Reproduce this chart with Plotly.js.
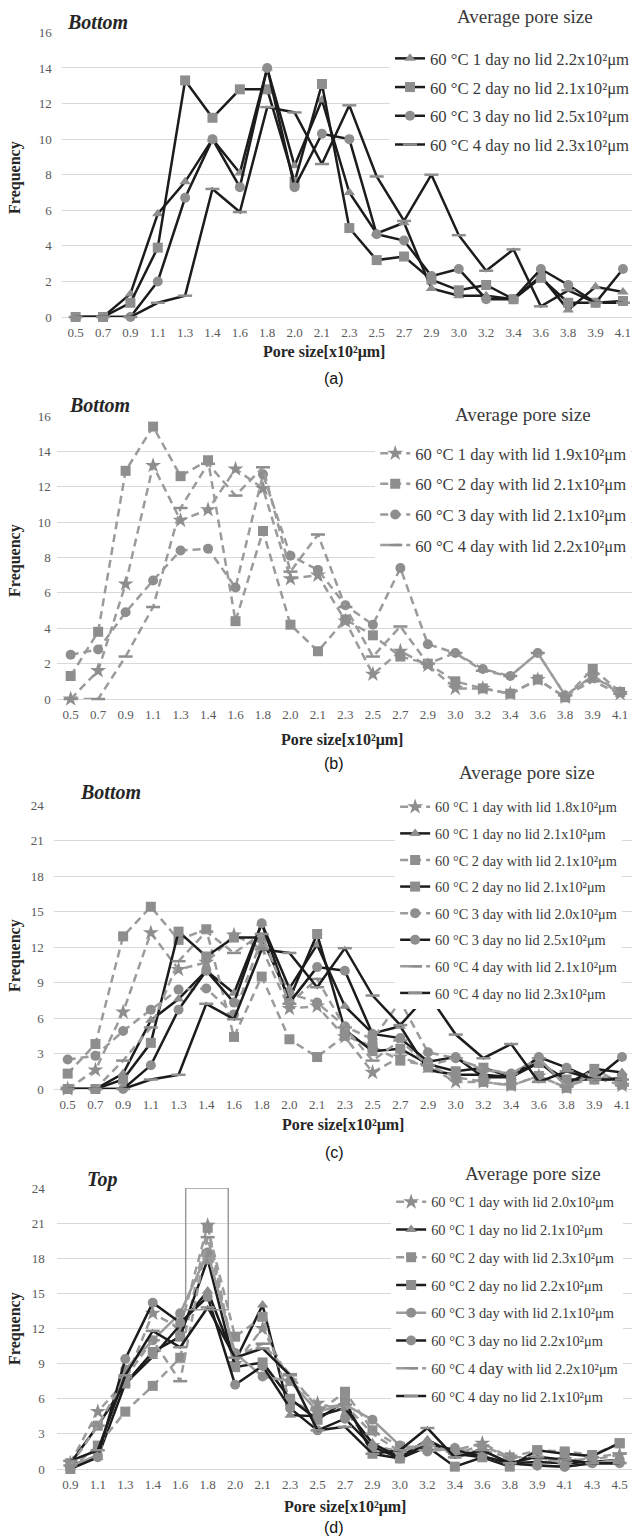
<!DOCTYPE html>
<html>
<head>
<meta charset="utf-8">
<script src="https://cdn.plot.ly/plotly-3.0.1.min.js"></script>
<style>html,body{margin:0;padding:0;background:#fff;}#chart{width:635px;height:1539px;}</style>
</head>
<body>
<div id="chart"></div>
<script>
// ---------- DATA ----------
const catsBottom = ['0.5','0.7','0.9','1.1','1.3','1.4','1.6','1.8','2.0','2.1','2.3','2.5','2.7','2.9','3.0','3.2','3.4','3.6','3.8','3.9','4.1'];
const catsTop = ['0.9','1.1','1.3','1.4','1.6','1.8','2.0','2.1','2.3','2.5','2.7','2.9','3.0','3.2','3.4','3.6','3.8','3.9','4.1','4.3','4.5'];

// Bottom, no lid (a)
const noLid1 = [0,0,1.3,5.8,7.6,10.0,8.1,14.0,8.5,12.2,7.0,4.7,5.3,1.6,1.2,1.2,1.0,2.3,0.4,1.7,1.4];
const noLid2 = [0,0,0.8,3.9,13.3,11.2,12.8,12.8,7.6,13.1,5.0,3.2,3.4,2.1,1.5,1.8,1.0,2.2,0.8,0.8,0.9];
const noLid3 = [0,0,0,2.0,6.7,10.0,7.3,14.0,7.3,10.3,10.0,4.65,4.3,2.3,2.7,1.0,1.0,2.7,1.8,0.8,2.7];
const noLid4 = [0,0,0,0.8,1.2,7.2,5.9,11.8,11.5,8.6,11.9,7.9,5.4,8.0,4.6,2.6,3.8,0.6,1.5,0.8,0.8];
// Bottom, with lid (b)
const withLid1 = [0,1.6,6.5,13.2,10.1,10.7,13.0,11.9,6.8,7.0,4.4,1.4,2.7,1.9,0.6,0.6,0.3,1.1,0.1,1.3,0.3];
const withLid2 = [1.3,3.8,12.9,15.4,12.6,13.5,4.4,9.5,4.2,2.7,4.5,3.6,2.4,2.0,1.0,0.6,0.3,1.1,0.1,1.7,0.4];
const withLid3 = [2.5,2.8,4.9,6.7,8.4,8.5,6.3,12.7,8.1,7.3,5.3,4.2,7.4,3.1,2.6,1.7,1.3,2.6,0.2,1.3,0.4];
const withLid4 = [0,0,2.4,5.2,10.8,13.3,11.5,13.1,7.2,9.3,5.2,2.4,4.1,2.0,2.6,1.6,1.3,2.6,0.2,1.0,0.3];
// Top (d)
const top1w = [0.5,4.9,7.5,13.3,12.0,20.8,9.0,12.0,7.5,5.6,5.0,2.0,1.5,2.0,1.6,2.2,1.0,0.8,0.8,0.8,1.2];
const top1n = [0.3,1.0,7.3,9.6,12.3,15.2,9.2,14.0,4.6,4.5,5.2,2.2,1.0,2.5,1.3,1.0,0.5,0.6,0.5,0.6,0.8];
const top2w = [0.0,2.0,4.9,7.1,9.5,20.6,11.3,13.0,5.8,4.8,6.6,3.3,1.9,1.9,1.3,1.6,1.0,1.6,1.5,1.2,2.2];
const top2n = [0.5,3.7,7.3,10.0,11.3,17.9,8.7,9.1,6.0,4.2,5.8,1.3,0.9,1.9,0.2,1.0,0.2,1.6,1.3,1.1,2.2];
const top3w = [0.2,1.2,8.5,11.0,13.3,18.5,9.9,7.9,7.5,4.9,5.5,4.2,2.0,1.5,1.8,1.1,0.5,0.3,0.2,0.5,0.8];
const top3n = [0.0,1.0,9.4,14.2,12.5,14.7,7.2,8.8,5.2,3.3,4.3,1.9,0.9,2.2,1.6,1.1,0.5,0.3,0.2,0.5,0.5];
const top4w = [0.3,3.7,7.8,11.0,7.5,19.8,9.5,10.7,8.1,5.2,5.5,3.0,1.5,2.2,1.3,2.0,1.0,1.0,0.5,1.0,1.3];
const top4n = [0.7,1.6,8.0,11.8,10.4,13.8,9.5,10.3,8.0,3.3,3.6,1.3,1.6,3.5,1.0,1.6,0.5,1.05,0.8,0.5,0.5];

const namesA = ['60 °C 1 day no lid 2.2x10²μm','60 °C 2 day no lid 2.1x10²μm','60 °C 3 day no lid 2.5x10²μm','60 °C 4 day no lid 2.3x10²μm'];
const namesB = ['60 °C 1 day with lid 1.9x10²μm','60 °C 2 day with lid 2.1x10²μm','60 °C 3 day with lid 2.1x10²μm','60 °C 4 day with lid 2.2x10²μm'];
const namesC = ['60 °C 1 day with lid 1.8x10²μm','60 °C 1 day no lid 2.1x10²μm','60 °C 2 day with lid 2.1x10²μm','60 °C 2 day no lid 2.1x10²μm','60 °C 3 day with lid 2.0x10²μm','60 °C 3 day no lid 2.5x10²μm','60 °C 4 day with lid 2.1x10²μm','60 °C 4 day no lid 2.3x10²μm'];
const namesD = ['60 °C 1 day with lid 2.0x10²μm','60 °C 1 day no lid 2.1x10²μm','60 °C 2 day with lid 2.3x10²μm','60 °C 2 day no lid 2.2x10²μm','60 °C 3 day with lid 2.1x10²μm','60 °C 3 day no lid 2.2x10²μm','60 °C 4 <span style="font-size:17px">day</span> with lid 2.2x10²μm','60 °C 4 day no lid 2.1x10²μm'];

// highlight box in panel (d): category-index span and frequency span
const boxX = [4.2, 5.75];
const boxY = [13.6, 24];

// ---------- STYLE ----------
const W = 635, H = 1539;
const fx = p => p / W;
const fy = p => 1 - p / H;
const BLACK = '#1c1c1c', GLINE = '#9b9b9b', MK = '#8e8e8e';
const SERIF = '"Liberation Serif", "Times New Roman", Times, "DejaVu Serif", serif';
const DASH = '8px,5px';

function st(kind, sym) {
  const line = kind === 'n' ? {color: BLACK, width: 2.5}
             : kind === 'w' ? {color: GLINE, width: 2.5, dash: DASH}
             : {color: GLINE, width: 2.5};
  let marker;
  if (sym === 'line-ew') marker = {symbol: 'line-ew', size: 10, color: MK, line: {color: MK, width: 2.5}};
  else marker = {symbol: sym, size: sym === 'star' ? 12 : 10, color: MK, line: {width: 0}};
  return {line, marker};
}

const traces = [];
function add(xs, ys, name, style, n, leg, grp) {
  traces.push({
    type: 'scatter', mode: 'lines+markers', x: xs, y: ys, name: name,
    xaxis: 'x' + (n === 1 ? '' : n), yaxis: 'y' + (n === 1 ? '' : n),
    line: style.line, marker: style.marker, cliponaxis: false,
    legend: leg, legendgroup: grp, hoverinfo: 'skip'
  });
}

[noLid1, noLid2, noLid3, noLid4].forEach((s, i) => {
  add(catsBottom, s, namesA[i], st('n', ['triangle-up','square','circle','line-ew'][i]), 1, 'legend', 'a' + i);
});
[withLid1, withLid2, withLid3, withLid4].forEach((s, i) => {
  add(catsBottom, s, namesB[i], st('w', ['star','square','circle','line-ew'][i]), 2, 'legend2', 'b' + i);
});
const cSeries = [withLid1, noLid1, withLid2, noLid2, withLid3, noLid3, withLid4, noLid4];
const cSyms = ['star','triangle-up','square','square','circle','circle','line-ew','line-ew'];
cSeries.forEach((s, i) => {
  add(catsBottom, s, namesC[i], st(i % 2 === 0 ? 'w' : 'n', cSyms[i]), 3, 'legend3', 'c' + i);
});
const dSeries = [top1w, top1n, top2w, top2n, top3w, top3n, top4w, top4n];
const dKinds = ['w','n','w','n','g','n','w','n'];
dSeries.forEach((s, i) => {
  add(catsTop, s, namesD[i], st(dKinds[i], cSyms[i]), 4, 'legend4', 'd' + i);
});

// ---------- AXES ----------
const tickFont = {family: SERIF, size: 13, color: '#595959'};
function xax(left, rmin, rmax, anchor, cats) {
  return {type: 'category', categoryorder: 'array', categoryarray: cats,
    domain: [fx(left), 1], range: [rmin, rmax], anchor: anchor,
    showgrid: false, zeroline: false, showline: false, ticks: '',
    tickmode: 'linear', tick0: 0, dtick: 1, tickangle: 0,
    tickfont: tickFont, ticklabelstandoff: 6, fixedrange: true};
}
function yax(topPx, botPx, rmax, dt, anchor, standoff) {
  return {domain: [fy(botPx), fy(topPx)], range: [0, rmax], dtick: dt, tick0: 0,
    anchor: anchor, showgrid: true, gridcolor: '#d9d9d9', gridwidth: 1,
    zeroline: true, zerolinecolor: '#d9d9d9', zerolinewidth: 1, showline: false,
    ticks: '', tickfont: tickFont, ticklabelstandoff: standoff, fixedrange: true};
}
function leg(xpx, ytop, fs, gap) {
  return {x: fx(xpx), y: fy(ytop), xref: 'paper', yref: 'paper', xanchor: 'left', yanchor: 'top',
    bgcolor: 'rgba(255,255,255,1)', borderwidth: 0, font: {family: SERIF, size: fs, color: '#3a3a3a'},
    traceorder: 'grouped', tracegroupgap: gap, itemwidth: 30, itemclick: false, itemdoubleclick: false};
}

const ann = [];
function txt(text, xpx, ypx, opts) {
  ann.push(Object.assign({text: text, x: fx(xpx), y: fy(ypx), xref: 'paper', yref: 'paper',
    showarrow: false, xanchor: 'center', yanchor: 'middle',
    font: {family: SERIF, size: 16, color: '#262626'}}, opts || {}));
}
const titleFont = {family: SERIF, size: 20, color: '#262626'};
txt('<b><i>Bottom</i></b>', 65, 22, {xanchor: 'left', font: titleFont});
txt('<b><i>Bottom</i></b>', 67, 405, {xanchor: 'left', font: titleFont});
txt('<b><i>Bottom</i></b>', 78, 792, {xanchor: 'left', font: titleFont});
txt('<b><i>Top</i></b>', 85, 1179, {xanchor: 'left', font: titleFont});
const avgFont = {family: SERIF, size: 19, color: '#3a3a3a'};
txt('Average pore size', 527, 17, {font: avgFont, bgcolor: '#fff'});
txt('Average pore size', 525, 414, {font: avgFont, bgcolor: '#fff'});
txt('Average pore size', 529, 772, {font: avgFont, bgcolor: '#fff'});
txt('Average pore size', 536, 1173, {font: avgFont, bgcolor: '#fff'});
const axFont = {family: SERIF, size: 16, color: '#262626'};
[177, 560, 955, 1328].forEach(y => txt('<b>Frequency</b>', 15, y, {textangle: -90, font: axFont}));
[[326, 352], [344, 740], [345, 1125], [347, 1507]].forEach(p => txt('<b>Pore size[x10²μm]</b>', p[0], p[1], {font: axFont}));
const lblFont = {family: '"Liberation Sans", Arial, sans-serif', size: 16, color: '#111'};
[['(a)', 378], ['(b)', 763], ['(c)', 1152], ['(d)', 1527]].forEach(p => txt(p[0], 336, p[1], {font: lblFont}));

const layout = {
  width: W, height: H, margin: {l: 0, r: 0, t: 0, b: 0},
  paper_bgcolor: '#fff', plot_bgcolor: '#fff', showlegend: true, hovermode: false,
  font: {family: SERIF},
  xaxis: xax(62, -0.51, 20.33, 'y', catsBottom),
  yaxis: yax(32.4, 317, 16, 2, 'x', 9),
  xaxis2: xax(57, -0.507, 20.43, 'y2', catsBottom),
  yaxis2: yax(416, 699, 16, 2, 'x2', 5),
  xaxis3: xax(54, -0.503, 20.36, 'y3', catsBottom),
  yaxis3: yax(805, 1089, 24, 3, 'x3', 9),
  xaxis4: xax(57, -0.496, 20.45, 'y4', catsTop),
  yaxis4: yax(1188, 1469, 24, 3, 'x4', 11),
  legend: leg(392, 41, 16.7, 4),
  legend2: leg(377, 436, 16.6, 6),
  legend3: leg(397, 791, 14.3, 5),
  legend4: leg(393, 1186, 14.4, 6),
  annotations: ann,
  shapes: [{type: 'rect', xref: 'x4', yref: 'y4', x0: boxX[0], x1: boxX[1], y0: boxY[0], y1: boxY[1],
    line: {color: '#9a9a9a', width: 1.5}, fillcolor: 'rgba(0,0,0,0)'}]
};

Plotly.newPlot('chart', traces, layout, {staticPlot: true, displayModeBar: false});
</script>
</body>
</html>
